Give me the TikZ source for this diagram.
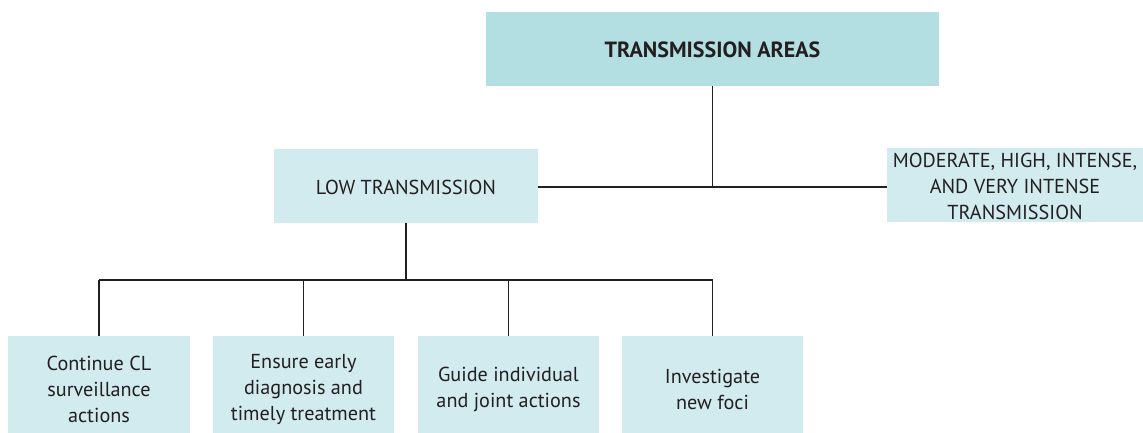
\documentclass[tikz,border=0pt]{standalone}
\usepackage{fontspec}
\setmainfont{PT Sans}
\definecolor{topfill}{HTML}{B3DFE3}
\definecolor{boxfill}{HTML}{D2EBEF}
\definecolor{linecol}{HTML}{231F20}
\begin{document}
\begin{tikzpicture}[x=1pt,y=-1pt,
  box/.style={fill=boxfill,draw=none,inner sep=0pt},
  txt/.style={inner sep=0pt,align=center,text=linecol,
    font=\fontsize{20.2}{26}\selectfont},
  link/.style={draw=linecol,line width=1.7pt}]
\useasboundingbox (0,0) rectangle (1143,433);
% coloured boxes
\node[box,fill=topfill,minimum width=453,minimum height=74] (top) at (712.5,49) {};
\node[box,minimum width=264,minimum height=74] (low) at (406,186) {};
\node[box,minimum width=256,minimum height=74] (mod) at (1015,185) {};
% bottom row runs past the lower edge of the page
\node[box,minimum width=182,minimum height=106] (b1) at (99,389) {};
\node[box,minimum width=181,minimum height=106] (b2) at (303.5,389) {};
\node[box,minimum width=181,minimum height=106] (b3) at (508.5,389) {};
\node[box,minimum width=181,minimum height=106] (b4) at (712.5,389) {};
% box texts
\node[txt,font=\fontsize{22}{26}\selectfont\bfseries] (top-t) at ([yshift=-1]top.center) {TRANSMISSION AREAS};
\node[txt] (low-t) at ([yshift=-1.5]low.center) {LOW TRANSMISSION};
\node[txt] (mod-t) at ([yshift=-1.5]mod.center) {MODERATE, HIGH, INTENSE,\\AND VERY INTENSE\\TRANSMISSION};
\node[txt] (b1-t) at (b1.center) {Continue CL\\surveillance\\actions};
\node[txt] (b2-t) at (b2.center) {Ensure early\\diagnosis and\\timely treatment};
\node[txt] (b3-t) at (b3.center) {Guide individual\\and joint actions};
\node[txt] (b4-t) at (b4.center) {Investigate\\new foci};
% connectors
\coordinate (j1) at (top.south |- 0,187);
\coordinate (j2) at (low.south |- 0,280);
\draw[link] (top.south) -- (j1);
\draw[link] (low.east |- j1) -- (mod.west |- j1);
\draw[link] (low.south) -- (j2);
\draw[link] (b1.north |- j2) -- (b4.north |- j2);
\draw[link] (b1.north |- j2) -- (b1.north);
\draw[link] (b2.north |- j2) -- (b2.north);
\draw[link] (b3.north |- j2) -- (b3.north);
\draw[link] (b4.north |- j2) -- (b4.north);
\end{tikzpicture}
\end{document}
